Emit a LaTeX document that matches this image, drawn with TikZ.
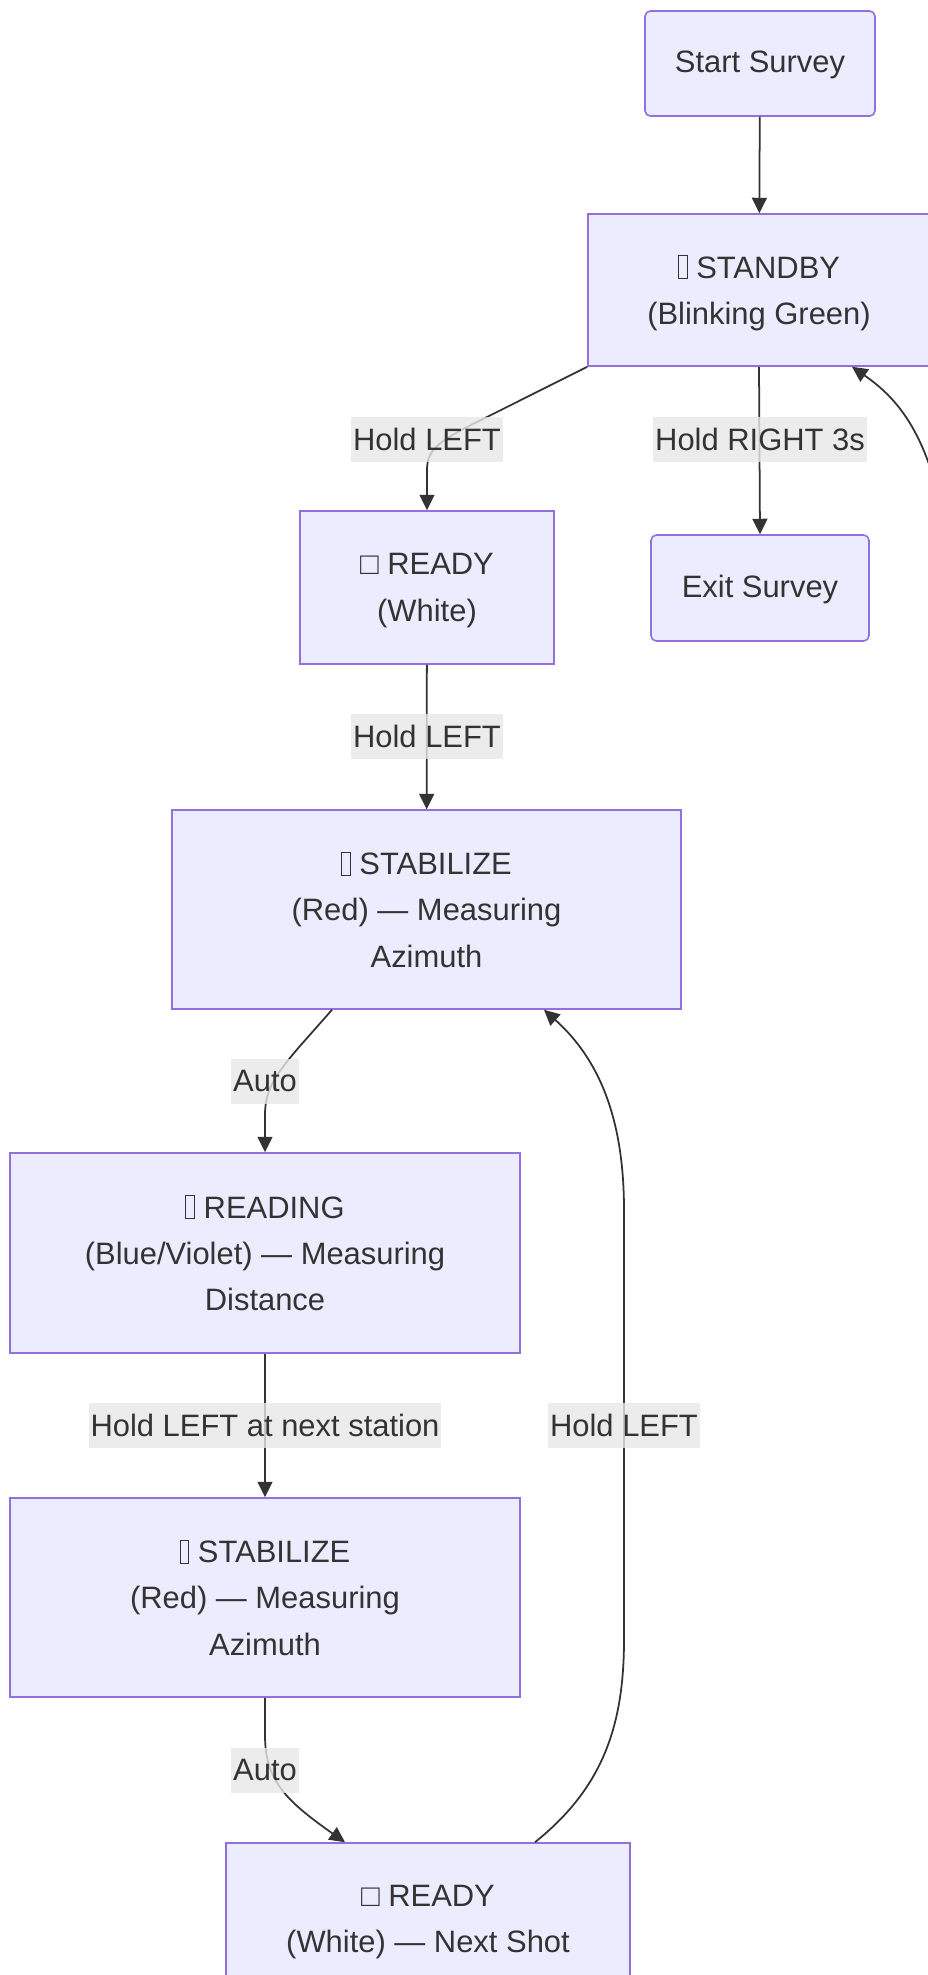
\documentclass[tikz,border=0pt]{standalone}
\usepackage{fontspec}
\setmainfont{Liberation Sans}
\usepackage{tikz}
\usetikzlibrary{arrows.meta, positioning}
\definecolor{nodefill}{HTML}{ECECFF}
\definecolor{nodeline}{HTML}{9370DB}
\definecolor{textgray}{HTML}{333333}
\definecolor{labelbg}{HTML}{E8E8E8}
\newcommand{\tofu}{{\fboxsep=0pt\fboxrule=0.5pt\fbox{\rule{0pt}{12.5pt}\hspace{4.5pt}}}}

\begin{document}
\begin{tikzpicture}[x=0.02cm, y=-0.02cm, >={Triangle[length=8.8pt,width=8.5pt]}, font=\fontsize{17.6}{26.4}\selectfont, text=textgray]
    \tikzstyle{state} = [draw=nodeline, fill=nodefill, line width=0.9pt, rectangle, align=center, inner sep=0pt, text depth=0pt]
    \tikzstyle{term} = [state, rounded corners=3pt, text depth=2pt]
    \tikzstyle{lbl} = [fill=labelbg, fill opacity=0.8, text opacity=1, inner xsep=1pt, inner ysep=0pt, minimum height=0.9cm]
    \tikzstyle{link} = [->, draw=textgray, line width=1pt]

    \useasboundingbox (0,0) rectangle (928,1975);
    \clip (0,0) rectangle (928,1975);
    \fill[white] (0,0) rectangle (928,1975);

    \node [term, minimum width=4.6cm, minimum height=2.1cm] (start) at (760,63.5) {Start Survey};
    \node [state, minimum width=6.84cm, minimum height=3.04cm] (standby) at (759,290) {\tofu{} STANDBY\\(Blinking Green)};
    \node [term, minimum width=4.36cm, minimum height=2.12cm] (exit) at (760,588) {Exit Survey};
    \node [state, minimum width=5.08cm, minimum height=3.06cm] (ready) at (427,587.5) {□ READY\\(White)};
    \node [state, minimum width=10.18cm, minimum height=3.98cm] (stabA) at (426.5,909.5) {\tofu{} STABILIZE\\(Red) — Measuring\\Azimuth};
    \node [state, minimum width=10.2cm, minimum height=4cm] (reading) at (265,1253) {\tofu{} READING\\(Blue/Violet) — Measuring\\Distance};
    \node [state, minimum width=10.2cm, minimum height=3.98cm] (stabB) at (265,1597.5) {\tofu{} STABILIZE\\(Red) — Measuring\\Azimuth};
    \node [state, minimum width=8.08cm, minimum height=3.04cm] (readyB) at (428,1919) {□ READY\\(White) — Next Shot};
    \coordinate (loopIn) at (950,560);

    \draw [link] (start) -- (standby);
    \draw [link] (standby.south west) -- (491,415) .. controls (440,440) and (427,448) .. (427,470) -- (ready.north);
    \draw [link] (standby.south) -- (exit.north);
    \draw [link] (ready) -- (stabA);
    \draw [link] ([xshift=-1.89cm]stabA.south) -- (300,1046) .. controls (275,1075) and (265,1090) .. (265,1115) -- (reading.north);
    \draw [link] (reading) -- (stabB);
    \draw [link] (stabB.south) -- (265,1735) .. controls (265,1780) and (285,1800) .. ([xshift=-1.66cm]readyB.north);
    \draw [link] ([xshift=2.14cm]readyB.north) .. controls (600,1790) and (624,1730) .. (624,1640) -- (624,1210) .. controls (624,1120) and (600,1060) .. ([xshift=2.35cm]stabA.south);
    \draw [link] (loopIn) .. controls (935,440) and (900,400) .. ([xshift=1.86cm]standby.south);

    \node [lbl] (lblLeftA) at (427,439) {Hold LEFT};
    \node [lbl] (lblRight) at (760,439) {Hold RIGHT 3s};
    \node [lbl] (lblLeftB) at (427,736) {Hold LEFT};
    \node [lbl] (lblAutoA) at (265,1081) {Auto};
    \node [lbl] (lblNext) at (265,1425) {Hold LEFT at next station};
    \node [lbl] (lblLeftC) at (624,1425) {Hold LEFT};
    \node [lbl] (lblAutoB) at (265,1770) {Auto};
\end{tikzpicture}
\end{document}
